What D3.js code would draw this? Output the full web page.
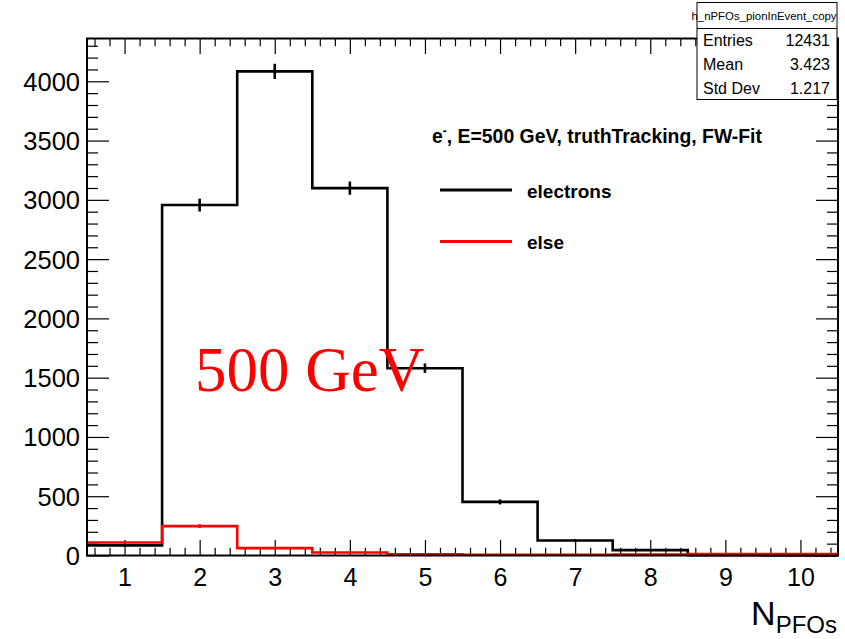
<!DOCTYPE html>
<html lang="en">
<head>
<meta charset="UTF-8">
<title>h_nPFOs_pionInEvent_copy</title>
<script src="https://d3js.org/d3.v7.min.js"></script>
<style>
  body { margin: 0; background: #fff; }
  text { font-family: "Liberation Sans", Arial, Helvetica, sans-serif; }
</style>
</head>
<body>
<svg width="845" height="639"></svg>
<script>

    // bin centres 1..10, bin width 1
    var binCenters = [1, 2, 3, 4, 5, 6, 7, 8, 9, 10];
    var electrons = [85, 2956, 4084, 3099, 1580, 452, 126, 45, 3, 1];
    var other = [110, 248, 62, 25, 10, 6, 6, 8, 12, 12];

    var xTickLabels = [1, 2, 3, 4, 5, 6, 7, 8, 9, 10];
    var yTickLabels = [0, 500, 1000, 1500, 2000, 2500, 3000, 3500, 4000];

    var statNames = ["Entries", "Mean", "Std Dev"];
    var statValues = ["12431", "3.423", "1.217"];

    // frame edges (note: "top" is reserved on window, so prefix them)
    var svg = d3.select("svg"),
        fLeft = 87, fRight = 838, fTop = 38.5, fBottom = 555.5;

    var x = d3.scaleLinear().domain([0.5, 10.5]).range([fLeft, fRight]);
    var y = d3.scaleLinear().domain([0, 4361]).range([fBottom, fTop]);

    var xMinor = d3.range(0.6, 10.5, 0.2).filter(function (v) {
        return Math.abs(v - Math.round(v)) > 0.01;
    });
    var yMinor = d3.range(100, 4361, 100).filter(function (v) { return v % 500 != 0; });

    // ticks, ROOT style: inside the frame on all four sides
    function noDomain(g) { g.select(".domain").remove(); }

    svg.append("g").attr("transform", "translate(0," + fBottom + ")")
        .call(d3.axisBottom(x).tickValues(xTickLabels).tickSize(-15.5).tickPadding(12.5).tickFormat(d3.format("d")))
        .call(noDomain)
        .call(function (g) {
            g.selectAll("text").attr("font-size", 25).attr("fill", "#000")
                .style("font-family", "'Liberation Sans', Arial, sans-serif");
        });
    svg.append("g").attr("transform", "translate(0," + fBottom + ")")
        .call(d3.axisBottom(x).tickValues(xMinor).tickSize(-7.75).tickFormat(""))
        .call(noDomain);
    svg.append("g").attr("transform", "translate(0," + fTop + ")")
        .call(d3.axisTop(x).tickValues(xTickLabels).tickSize(-15.5).tickFormat(""))
        .call(noDomain);
    svg.append("g").attr("transform", "translate(0," + fTop + ")")
        .call(d3.axisTop(x).tickValues(xMinor).tickSize(-7.75).tickFormat(""))
        .call(noDomain);

    svg.append("g").attr("transform", "translate(" + fLeft + ",0)")
        .call(d3.axisLeft(y).tickValues(yTickLabels).tickSize(-22).tickPadding(7).tickFormat(d3.format("d")))
        .call(noDomain)
        .call(function (g) {
            g.selectAll("text").attr("font-size", 25.5).attr("fill", "#000").attr("dy", "0.35em")
                .style("font-family", "'Liberation Sans', Arial, sans-serif");
        });
    svg.append("g").attr("transform", "translate(" + fLeft + ",0)")
        .call(d3.axisLeft(y).tickValues(yMinor).tickSize(-11).tickFormat(""))
        .call(noDomain);
    svg.append("g").attr("transform", "translate(" + fRight + ",0)")
        .call(d3.axisRight(y).tickValues(yTickLabels).tickSize(-22).tickFormat(""))
        .call(noDomain);
    svg.append("g").attr("transform", "translate(" + fRight + ",0)")
        .call(d3.axisRight(y).tickValues(yMinor).tickSize(-11).tickFormat(""))
        .call(noDomain);

    svg.selectAll(".tick line").attr("stroke", "#000").attr("stroke-width", 1.2);

    // histograms as steps
    var line = d3.line()
        .x(function (d) { return x(d[0]); })
        .y(function (d) { return y(d[1]); });

    function steps(vals) {
        var pts = [];
        vals.forEach(function (v, i) {
            pts.push([binCenters[i] - 0.5, v]);
            pts.push([binCenters[i] + 0.5, v]);
        });
        return pts;
    }

    function drawHist(vals, color) {
        svg.append("path")
            .attr("d", line(steps(vals)))
            .attr("fill", "none")
            .attr("stroke", color)
            .attr("stroke-width", 2.6);
        svg.append("g").selectAll("line")
            .data(vals)
            .enter().append("line")
            .attr("x1", function (d, i) { return x(binCenters[i]); })
            .attr("x2", function (d, i) { return x(binCenters[i]); })
            .attr("y1", function (d) { return y(d + Math.sqrt(d)); })
            .attr("y2", function (d) { return y(Math.max(0, d - Math.sqrt(d))); })
            .attr("stroke", color)
            .attr("stroke-width", 2.6);
    }

    drawHist(electrons, "#000");
    drawHist(other, "#ff0000");

    // frame
    svg.append("rect")
        .attr("x", fLeft).attr("y", fTop)
        .attr("width", fRight - fLeft).attr("height", fBottom - fTop)
        .attr("fill", "none").attr("stroke", "#000").attr("stroke-width", 2);

    // legend
    svg.append("text").attr("x", 432).attr("y", 143)
        .attr("font-size", 19.4).attr("font-weight", "bold")
        .call(function (t) {
            t.append("tspan").text("e");
            t.append("tspan").attr("font-size", 12).attr("dy", -8).text("-");
            t.append("tspan").attr("dy", 8).text(", E=500 GeV, truthTracking, FW-Fit");
        });

    var legendItems = ["electrons", "else"];
    var legendColors = ["#000", "#ff0000"];
    legendItems.forEach(function (name, i) {
        var ly = 190 + i * 51.5;
        svg.append("line")
            .attr("x1", 440).attr("x2", 512).attr("y1", ly).attr("y2", ly)
            .attr("stroke", legendColors[i]).attr("stroke-width", 2.8);
        svg.append("text").attr("x", 527).attr("y", ly + 7.5)
            .attr("font-size", 19).attr("font-weight", "bold").text(name);
    });

    // big label
    svg.append("text").attr("x", 195).attr("y", 391)
        .style("font-family", "'Liberation Serif', 'Times New Roman', serif")
        .attr("font-size", 63).attr("fill", "#ff0000").text("500 GeV");

    // axis title
    svg.append("text").attr("x", 837).attr("y", 625).attr("text-anchor", "end")
        .call(function (t) {
            t.append("tspan").attr("font-size", 34).text("N");
            t.append("tspan").attr("font-size", 24).attr("dy", 8).text("PFOs");
        });

    // stats box
    var box = svg.append("g");
    box.append("rect").attr("x", 697).attr("y", 2.5).attr("width", 140).attr("height", 97)
        .attr("fill", "#fff").attr("stroke", "#000").attr("stroke-width", 1);
    box.append("line").attr("x1", 697).attr("x2", 837).attr("y1", 28.5).attr("y2", 28.5)
        .attr("stroke", "#000").attr("stroke-width", 1);
    box.append("text").attr("x", 764).attr("y", 20).attr("text-anchor", "middle")
        .attr("font-size", 11.4).text("h_nPFOs_pionInEvent_copy");
    statNames.forEach(function (n, i) {
        var by = 46 + i * 24;
        box.append("text").attr("x", 703).attr("y", by).attr("font-size", 16).text(n);
        box.append("text").attr("x", 830).attr("y", by).attr("text-anchor", "end")
            .attr("font-size", 16).text(statValues[i]);
    });

</script>
</body>
</html>
